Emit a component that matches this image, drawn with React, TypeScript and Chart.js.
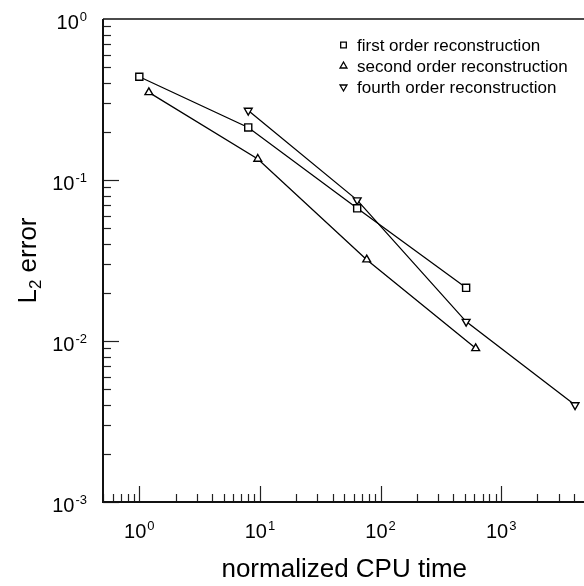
import React, { useEffect, useRef } from 'react';
import { Chart, registerables } from 'chart.js';

Chart.register(...registerables);

// ---- data ----
const seriesLabels = [
  'first order reconstruction',
  'second order reconstruction',
  'fourth order reconstruction',
];
const firstX = [1, 8, 64, 512];
const firstY = [0.438, 0.212, 0.0667, 0.0214];
const secondX = [1.2, 9.6, 76.8, 614.4];
const secondY = [0.35, 0.135, 0.032, 0.009];
const fourthX = [8, 64, 512, 4096];
const fourthY = [0.27, 0.075, 0.0132, 0.004];

const xTickExponents = [0, 1, 2, 3];
const yTickExponents = [0, -1, -2, -3];
const xTitle = 'normalized CPU time';
const yTitleMain = 'L';
const yTitleSub = '2';
const yTitleRest = ' error';

const X_MIN = 0.5;
const X_MAX = 5000;
const Y_MIN = 0.001;
const Y_MAX = 1;

const FONT = '"Liberation Sans", Arial, Helvetica, sans-serif';

function drawMarker(ctx: CanvasRenderingContext2D, style: string, rot: number, x: number, y: number, r: number) {
  ctx.beginPath();
  if (style === 'rect') {
    const s = r * Math.SQRT1_2;
    ctx.rect(x - s, y - s, 2 * s, 2 * s);
  } else {
    const dir = rot === 180 ? -1 : 1;
    const w = r * Math.sqrt(3) / 2;
    ctx.moveTo(x, y - dir * r);
    ctx.lineTo(x + w, y + dir * r / 2);
    ctx.lineTo(x - w, y + dir * r / 2);
    ctx.closePath();
  }
  ctx.fillStyle = '#fff';
  ctx.fill();
  ctx.stroke();
}

function drawPow(ctx: CanvasRenderingContext2D, exp: number, x: number, baseline: number, align: 'right' | 'center') {
  const baseFont = `20px ${FONT}`;
  const supFont = `13px ${FONT}`;
  ctx.font = baseFont;
  const wb = ctx.measureText('10').width;
  ctx.font = supFont;
  const supText = String(exp);
  const ws = ctx.measureText(supText).width;
  const total = wb + 1 + ws;
  let left = align === 'right' ? x - total : x - total / 2;
  ctx.textAlign = 'left';
  ctx.textBaseline = 'alphabetic';
  ctx.font = baseFont;
  ctx.fillText('10', left, baseline);
  ctx.font = supFont;
  ctx.fillText(supText, left + wb + 1, baseline - 8);
}

const decorPlugin = {
  id: 'decor',
  afterDraw(chart: any) {
    const { ctx, chartArea: a, scales } = chart;
    const xs = scales.x;
    const ys = scales.y;
    ctx.save();
    ctx.strokeStyle = '#222';
    ctx.fillStyle = '#000';

    // ticks (inward)
    ctx.lineWidth = 1.2;
    for (let e = -1; e <= 4; e++) {
      for (let m = 1; m <= 9; m++) {
        const v = m * Math.pow(10, e);
        if (v < X_MIN * 0.999 || v > X_MAX * 1.001) continue;
        const px = Math.round(xs.getPixelForValue(v)) + 0.5;
        const len = m === 1 ? 16 : 8;
        ctx.beginPath();
        ctx.moveTo(px, a.bottom);
        ctx.lineTo(px, a.bottom - len);
        ctx.stroke();
      }
    }
    for (let e = -4; e <= 0; e++) {
      for (let m = 1; m <= 9; m++) {
        const v = m * Math.pow(10, e);
        if (v < Y_MIN * 0.999 || v > Y_MAX * 0.999) continue;
        const py = Math.round(ys.getPixelForValue(v)) + 0.5;
        const len = m === 1 ? 16 : 8;
        ctx.beginPath();
        ctx.moveTo(a.left, py);
        ctx.lineTo(a.left + len, py);
        ctx.stroke();
      }
    }

    // frame
    ctx.strokeStyle = '#111';
    ctx.lineWidth = 2;
    ctx.beginPath();
    ctx.moveTo(a.left, a.top);
    ctx.lineTo(a.left, a.bottom);
    ctx.lineTo(a.right, a.bottom);
    ctx.stroke();
    ctx.lineWidth = 1.5;
    ctx.beginPath();
    ctx.moveTo(a.left, a.top);
    ctx.lineTo(a.right, a.top);
    ctx.lineTo(a.right, a.bottom);
    ctx.stroke();

    // tick labels
    ctx.fillStyle = '#000';
    xTickExponents.forEach((e) => {
      const px = xs.getPixelForValue(Math.pow(10, e));
      drawPow(ctx, e, px, a.bottom + 36, 'center');
    });
    yTickExponents.forEach((e) => {
      const py = ys.getPixelForValue(Math.pow(10, e));
      drawPow(ctx, e, a.left - 16, py + 10, 'right');
    });

    // x title
    ctx.font = `26px ${FONT}`;
    ctx.textAlign = 'center';
    ctx.textBaseline = 'alphabetic';
    ctx.fillText(xTitle, (a.left + a.right) / 2, 577);

    // y title (rotated, with subscript)
    ctx.save();
    const cy = (a.top + a.bottom) / 2;
    ctx.translate(36, cy);
    ctx.rotate(-Math.PI / 2);
    ctx.font = `26px ${FONT}`;
    const w1 = ctx.measureText(yTitleMain).width;
    const w3 = ctx.measureText(yTitleRest).width;
    ctx.font = `17px ${FONT}`;
    const w2 = ctx.measureText(yTitleSub).width;
    const tot = w1 + w2 + w3;
    let xx = -tot / 2;
    ctx.textAlign = 'left';
    ctx.font = `26px ${FONT}`;
    ctx.fillText(yTitleMain, xx, 0);
    xx += w1;
    ctx.font = `17px ${FONT}`;
    ctx.fillText(yTitleSub, xx, 5);
    xx += w2;
    ctx.font = `26px ${FONT}`;
    ctx.fillText(yTitleRest, xx, 0);
    ctx.restore();

    // legend
    ctx.font = `17px ${FONT}`;
    ctx.textAlign = 'left';
    ctx.textBaseline = 'middle';
    ctx.lineWidth = 1.3;
    ctx.strokeStyle = '#000';
    chart.data.datasets.forEach((ds: any, i: number) => {
      const y = 45 + i * 21;
      drawMarker(ctx, ds.pointStyle, ds.pointRotation || 0, 343.5, y, 4);
      ctx.fillStyle = '#000';
      ctx.fillText(ds.label, 357, y + 1);
    });
    ctx.restore();
  },
};

function toPoints(xs: number[], ys: number[]) {
  return xs.map((x, i) => ({ x, y: ys[i] }));
}

export default function App() {
  const ref = useRef<HTMLCanvasElement | null>(null);
  useEffect(() => {
    if (!ref.current) return;
    const common = {
      borderColor: '#000',
      borderWidth: 1.3,
      pointBorderColor: '#000',
      pointBackgroundColor: '#fff',
      pointBorderWidth: 1.4,
      showLine: true,
      fill: false,
      tension: 0,
    };
    const chart = new Chart(ref.current, {
      type: 'scatter',
      data: {
        datasets: [
          { ...common, label: seriesLabels[0], data: toPoints(firstX, firstY), pointStyle: 'rect', pointRadius: 5, pointRotation: 0 },
          { ...common, label: seriesLabels[1], data: toPoints(secondX, secondY), pointStyle: 'triangle', pointRadius: 4.5, pointRotation: 0 },
          { ...common, label: seriesLabels[2], data: toPoints(fourthX, fourthY), pointStyle: 'triangle', pointRadius: 4.5, pointRotation: 180 },
        ] as any,
      },
      options: {
        animation: false,
        responsive: false,
        layout: { padding: { left: 103, top: 19, right: 14.5, bottom: 84 } },
        plugins: { legend: { display: false }, tooltip: { enabled: false } },
        scales: {
          x: { type: 'logarithmic', min: X_MIN, max: X_MAX, display: false },
          y: { type: 'logarithmic', min: Y_MIN, max: Y_MAX, display: false },
        },
      },
      plugins: [decorPlugin],
    });
    return () => chart.destroy();
  }, []);
  return (
    <div style={{ position: 'fixed', left: 0, top: 0, width: 584, height: 586, overflow: 'hidden', background: '#fff' }}>
      <canvas ref={ref} width={600} height={586} style={{ display: 'block' }} />
    </div>
  );
}
